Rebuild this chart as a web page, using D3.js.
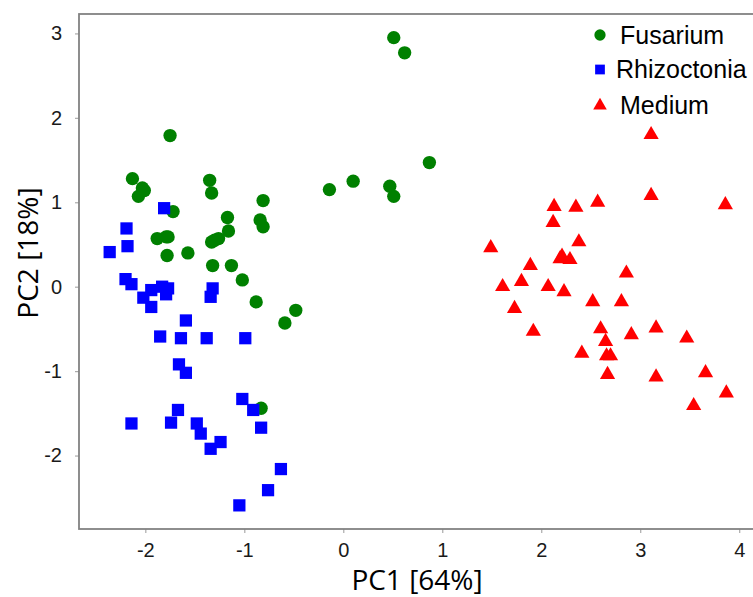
<!DOCTYPE html>
<html>
<head>
<meta charset="utf-8">
<script src="https://cdn.jsdelivr.net/npm/d3@7"></script>
<style>
  html, body { margin: 0; padding: 0; background: #fff; }
  svg { display: block; }
</style>
</head>
<body>
<svg id="chart" width="753" height="597"></svg>
<script>
// PCA scores, [PC1, PC2] per sample
const fusarium = [
  [-1.75, 1.79], [-2.13, 1.28], [-2.03, 1.17], [-2.01, 1.14], [-2.07, 1.07],
  [-1.35, 1.26], [-1.33, 1.11], [-1.72, 0.89], [-0.81, 1.02], [-1.17, 0.82],
  [-1.16, 0.66], [-0.84, 0.79], [-0.81, 0.71], [-1.88, 0.57], [-1.79, 0.59],
  [-1.77, 0.59], [-1.78, 0.37], [-1.57, 0.40], [-1.33, 0.53], [-1.30, 0.55],
  [-1.26, 0.57], [-1.32, 0.25], [-1.13, 0.25], [-1.02, 0.08], [-0.14, 1.15],
  [0.10, 1.25], [-0.88, -0.18], [-0.48, -0.28], [-0.59, -0.43], [-0.83, -1.44],
  [0.51, 2.95], [0.62, 2.77], [0.87, 1.47], [0.47, 1.19], [0.51, 1.07]
];
const rhizoctonia = [
  [-1.81, 0.93], [-2.19, 0.69], [-2.18, 0.48], [-2.36, 0.41], [-2.20, 0.09],
  [-2.14, 0.03], [-2.02, -0.13], [-1.94, -0.04], [-1.83, 0.00], [-1.77, -0.02],
  [-1.79, -0.09], [-1.94, -0.24], [-1.32, -0.02], [-1.34, -0.12], [-1.59, -0.40],
  [-1.85, -0.59], [-1.64, -0.61], [-1.38, -0.61], [-0.99, -0.61], [-1.66, -0.92],
  [-1.59, -1.02], [-1.02, -1.33], [-0.91, -1.46], [-1.67, -1.46], [-1.74, -1.61],
  [-2.14, -1.62], [-1.48, -1.62], [-1.44, -1.74], [-1.24, -1.84], [-1.34, -1.92],
  [-0.83, -1.67], [-0.63, -2.16], [-0.76, -2.41], [-1.05, -2.59]
];
const medium = [
  [3.11, 1.80], [3.11, 1.08], [3.86, 0.97], [2.13, 0.95], [2.35, 0.94],
  [2.57, 1.00], [2.12, 0.76], [2.38, 0.53], [1.49, 0.46], [2.21, 0.36],
  [2.19, 0.33], [2.29, 0.32], [1.89, 0.25], [2.86, 0.16], [1.61, 0.00],
  [1.80, 0.06], [2.07, 0.00], [2.23, -0.06], [2.52, -0.18], [2.81, -0.18],
  [1.73, -0.26], [1.92, -0.53], [2.60, -0.50], [2.65, -0.65], [2.41, -0.79],
  [2.66, -0.82], [2.70, -0.82], [2.67, -1.04], [2.91, -0.57], [3.16, -0.49],
  [3.16, -1.07], [3.47, -0.61], [3.66, -1.02], [3.87, -1.26], [3.54, -1.41]
];

const groupNames = ["Fusarium", "Rhizoctonia", "Medium"];
const groupColors = ["#008000", "#0000ff", "#ff0000"];
const groupShapes = [d3.symbolCircle, d3.symbolSquare, d3.symbolTriangle];
const groupData = [fusarium, rhizoctonia, medium];

const xTicks = [-2, -1, 0, 1, 2, 3, 4];
const yTicks = [-2, -1, 0, 1, 2, 3];
const xTitle = "PC1 [64%]";
const yTitle = "PC2 [18%]";

const svg = d3.select("#chart");
const plotLeft = 79, plotTop = 14, plotBottom = 529, plotRight = 759;

const x = d3.scaleLinear().domain([-2.67, 4.2]).range([plotLeft, plotRight]);
const y = d3.scaleLinear().domain([-2.87, 3.23]).range([plotBottom, plotTop]);

const axisColor = "#828282";

// x axis
const gx = svg.append("g")
  .attr("transform", `translate(0,${plotBottom})`)
  .call(d3.axisBottom(x).tickValues(xTicks).tickFormat(d3.format("d"))
    .tickSize(4).tickPadding(10));
// y axis
const gy = svg.append("g")
  .attr("transform", `translate(${plotLeft},0)`)
  .call(d3.axisLeft(y).tickValues(yTicks).tickFormat(d3.format("d"))
    .tickSize(4).tickPadding(13));

[gx, gy].forEach(g => {
  g.select(".domain").remove();
  g.selectAll(".tick line").attr("stroke", "#aaaaaa").attr("stroke-width", 1.2);
  g.selectAll(".tick text")
    .attr("fill", "#1a1a1a")
    .style("font-family", "'Liberation Sans', Arial, sans-serif")
    .style("font-size", "20px");
});
gx.selectAll(".tick text").text(d => d < 0 ? "-" + Math.abs(d) : d);
gy.selectAll(".tick text").text(d => d < 0 ? "-" + Math.abs(d) : d);

// plot frame
svg.append("rect")
  .attr("x", plotLeft).attr("y", plotTop)
  .attr("width", plotRight - plotLeft).attr("height", plotBottom - plotTop)
  .attr("fill", "none")
  .attr("stroke", axisColor)
  .attr("stroke-width", 1.8);

// points
const symbolSizes = [140, 150, 100];
groupData.forEach((data, i) => {
  svg.append("g")
    .selectAll("path")
    .data(data)
    .join("path")
    .attr("transform", d => `translate(${x(d[0])},${y(d[1])})`)
    .attr("d", d3.symbol().type(groupShapes[i]).size(symbolSizes[i]))
    .attr("fill", groupColors[i]);
});

// legend
const legendRows = [35, 69.5, 105.5];
const legendSizes = [100, 95, 80];
const legend = svg.append("g");
groupNames.forEach((name, i) => {
  legend.append("path")
    .attr("transform", `translate(600,${legendRows[i]})`)
    .attr("d", d3.symbol().type(groupShapes[i]).size(legendSizes[i]))
    .attr("fill", groupColors[i]);
  legend.append("text")
    .attr("x", i === 1 ? 616 : 620)
    .attr("y", legendRows[i] + 8.5)
    .attr("fill", "#000")
    .style("font-family", "'Liberation Sans', Arial, sans-serif")
    .style("font-size", "25px")
    .text(name);
});

// axis titles
svg.append("text")
  .attr("x", 417).attr("y", 590)
  .attr("text-anchor", "middle")
  .attr("fill", "#000")
  .style("font-family", "'Open Sans', sans-serif")
  .style("font-size", "28px")
  .text(xTitle);

svg.append("text")
  .attr("transform", "translate(38,253) rotate(-90)")
  .attr("text-anchor", "middle")
  .attr("fill", "#000")
  .style("font-family", "'Open Sans', sans-serif")
  .style("font-size", "28px")
  .text(yTitle);
</script>
</body>
</html>
